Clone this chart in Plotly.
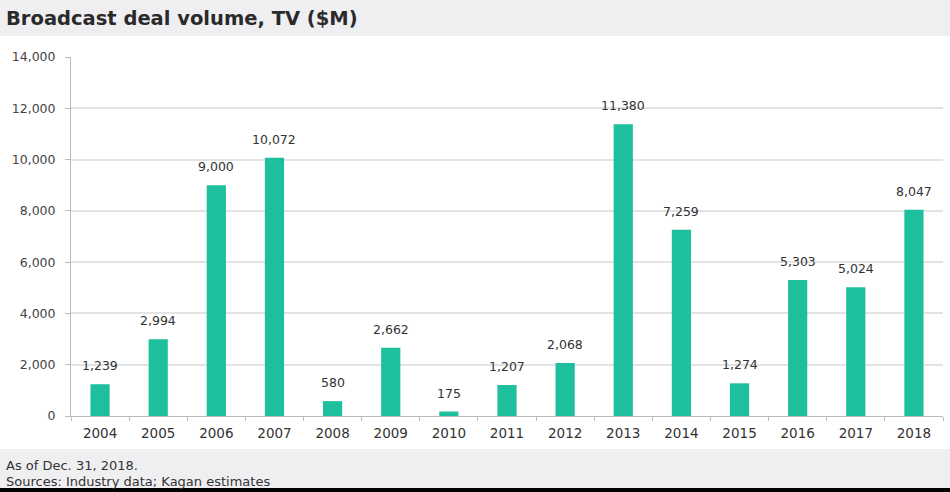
import plotly.graph_objects as go

years = ["2004", "2005", "2006", "2007", "2008", "2009", "2010", "2011",
         "2012", "2013", "2014", "2015", "2016", "2017", "2018"]
values = [1239, 2994, 9000, 10072, 580, 2662, 175, 1207,
          2068, 11380, 7259, 1274, 5303, 5024, 8047]
y_ticks = [0, 2000, 4000, 6000, 8000, 10000, 12000, 14000]

W, H = 950, 492
L, R, T, B = 71, 7, 57, 76
PW, PH = W - L - R, H - T - B
FONT = "DejaVu Sans"

fig = go.Figure()
fig.add_trace(go.Bar(
    x=years, y=values,
    marker=dict(color="#1dbf9c", line=dict(width=0)),
    width=0.33,
    hoverinfo="x+y",
))

annotations = [
    dict(x=i, y=v, xref="x", yref="y", text=f"{v:,}", showarrow=False,
         yanchor="bottom", yshift=9,
         font=dict(size=12.5, color="#333333", family=FONT))
    for i, v in enumerate(values)
]
annotations += [
    dict(text="<b>Broadcast deal volume, TV ($M)</b>", xref="paper", yref="paper",
         x=-(L - 4) / PW, y=1 + (T - 18) / PH,
         xanchor="left", yanchor="middle", showarrow=False,
         font=dict(size=19.5, color="#2a2a2a", family=FONT)),
    dict(text="As of Dec. 31, 2018.", xref="paper", yref="paper",
         x=-(L - 4) / PW, y=-(465 - (H - B)) / PH,
         xanchor="left", yanchor="middle", showarrow=False,
         font=dict(size=13, color="#333333", family=FONT)),
    dict(text="Sources: Industry data; Kagan estimates", xref="paper", yref="paper",
         x=-(L - 4) / PW, y=-(481 - (H - B)) / PH,
         xanchor="left", yanchor="middle", showarrow=False,
         font=dict(size=13, color="#333333", family=FONT)),
]

fig.update_layout(
    width=W, height=H,
    margin=dict(l=L, r=R, t=T, b=B),
    paper_bgcolor="white", plot_bgcolor="white",
    showlegend=False,
    font=dict(family=FONT, color="#333333", size=12),
    xaxis=dict(
        type="category", categoryorder="array", categoryarray=years,
        range=[-0.5, len(years) - 0.5],
        tickson="boundaries", ticks="outside", ticklen=4,
        tickcolor="#bbbbbb", showline=True, linecolor="#bbbbbb", linewidth=1,
        showgrid=False, tickangle=0, ticklabelstandoff=5,
        tickfont=dict(size=13.5, color="#333333"),
    ),
    yaxis=dict(
        range=[0, 14000], tickvals=y_ticks,
        ticktext=[f"{v:,}" for v in y_ticks],
        ticks="outside", ticklen=5, tickcolor="#bbbbbb",
        showline=True, linecolor="#bbbbbb", linewidth=1,
        showgrid=True, gridcolor="#e3e3e3", gridwidth=1.5,
        zeroline=False, ticklabelstandoff=7,
        tickfont=dict(size=12.5, color="#444444"),
    ),
    shapes=[
        dict(type="rect", xref="paper", yref="paper", layer="below",
             x0=-L / PW, x1=1 + R / PW,
             y0=1 + (T - 36) / PH, y1=1 + T / PH,
             fillcolor="#efeff1", line=dict(width=0)),
        dict(type="rect", xref="paper", yref="paper", layer="below",
             x0=-L / PW, x1=1 + R / PW,
             y0=-(B - 4) / PH, y1=-(B - 43) / PH,
             fillcolor="#efeff1", line=dict(width=0)),
        dict(type="rect", xref="paper", yref="paper", layer="below",
             x0=-L / PW, x1=1 + R / PW,
             y0=-B / PH, y1=-(B - 4) / PH,
             fillcolor="#000000", line=dict(width=0)),
    ],
    annotations=annotations,
)

fig.write_html("out.html", config={"displayModeBar": False})

with open("out.html", "r", encoding="utf-8") as f:
    html = f.read()
html = html.replace("<head>", "<head><style>html,body{margin:0;padding:0;overflow:hidden;}</style>", 1)
with open("out.html", "w", encoding="utf-8") as f:
    f.write(html)
